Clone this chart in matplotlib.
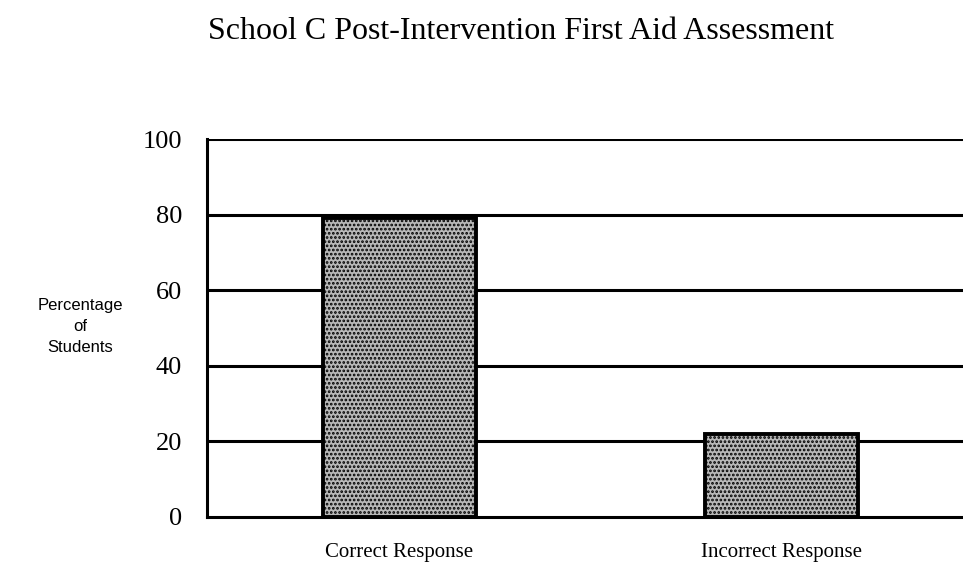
import matplotlib.pyplot as plt

categories = ["Correct Response", "Incorrect Response"]
percentages = [79, 22]
y_ticks = [0, 20, 40, 60, 80, 100]

SERIF = ["Liberation Serif", "DejaVu Serif"]
SANS = ["Liberation Sans", "DejaVu Sans"]

fig = plt.figure(figsize=(9.63, 5.69), dpi=100)
ax = fig.add_axes([0.215, 0.0914, 0.785, 0.6643])

x = list(range(len(categories)))
ax.set_xlim(-0.503, 1.476)
ax.set_ylim(0, 100)

# gridlines drawn behind the bars
for t in y_ticks[1:]:
    ax.axhline(t, color="black", lw=2.2, zorder=1)

plt.rcParams["hatch.linewidth"] = 1.3
ax.bar(x, percentages, width=0.4, facecolor="#b8b8b8", edgecolor="black",
       linewidth=2.8, hatch="....", zorder=3)

for side in ["top", "right"]:
    ax.spines[side].set_visible(False)
for side in ["left", "bottom"]:
    ax.spines[side].set_linewidth(2.2)

ax.set_yticks(y_ticks)
ax.set_yticklabels([str(t) for t in y_ticks], fontfamily=SERIF, fontsize=19)
ax.set_xticks(x)
ax.set_xticklabels(categories, fontfamily=SERIF, fontsize=15)
ax.tick_params(axis="y", length=0, pad=18)
ax.tick_params(axis="x", length=0, pad=19)

fig.text(0.541, 0.945, "School C Post-Intervention First Aid Assessment",
         ha="center", va="center", fontfamily=SERIF, fontsize=23)
fig.text(0.083, 0.427, "Percentage\nof\nStudents", ha="center", va="center",
         fontfamily=SANS, fontsize=12, linespacing=1.5)

fig.savefig("out.png", dpi=100, facecolor="white")
